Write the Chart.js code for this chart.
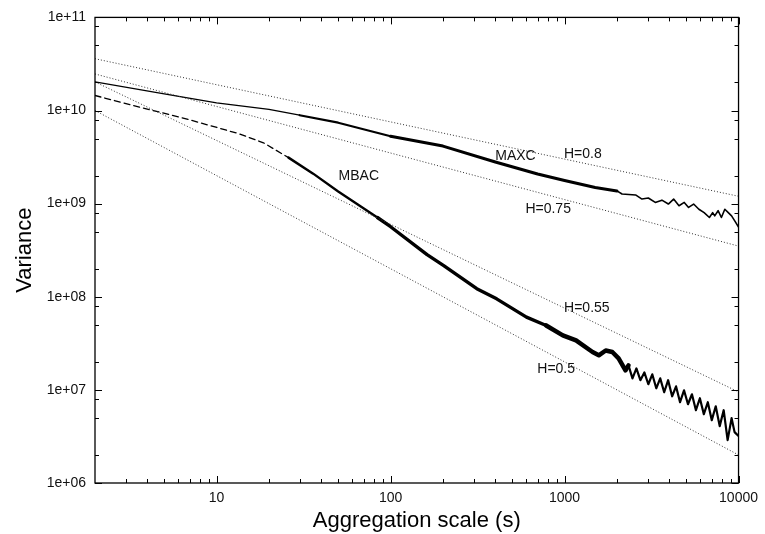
<!DOCTYPE html>
<html>
<head>
<meta charset="utf-8">
<script src="https://cdn.jsdelivr.net/npm/chart.js@4.4.1/dist/chart.umd.min.js"></script>
<style>
  html, body { margin: 0; padding: 0; background: #fff; }
  #wrap { width: 765px; height: 534px; }
</style>
</head>
<body>
<div id="wrap"><canvas id="varChart" width="765" height="534"></canvas></div>
<script>
// MAXC variance-time curve
const maxcX = [2, 5, 10, 20, 30, 50, 100, 200, 400, 700, 1000, 1500, 2000, 2140, 2560, 2785, 3030, 3322,
  3627, 3950, 4236, 4548, 4875, 5162, 5518, 5916, 6342, 6800, 7100, 7295, 7630, 7970, 8340, 8730, 9120, 9530, 10000];
const maxcY = [2.03e10, 1.51e10, 1.21e10, 1.03e10, 8.9e9, 7.4e9, 5.3e9, 4.15e9, 2.8e9, 2.08e9, 1.77e9, 1.49e9, 1.37e9, 1.27e9, 1.24e9, 1.12e9, 1.15e9, 1.03e9,
  1.09e9, 9.9e8, 1.12e9, 9.5e8, 1.03e9, 9.1e8, 9.9e8, 8.7e8, 8.0e8, 7.1e8, 8.0e8, 7.4e8, 8.4e8, 7.1e8, 8.7e8, 8.0e8, 7.4e8, 6.5e8, 5.6e8];

// MBAC variance-time curve
const mbacX = [2, 3.6, 7, 13.4, 18.6, 25.9, 35.9, 50, 84, 100, 162, 202, 313, 407, 604, 784, 977, 1164, 1448, 1573, 1724, 1882, 2045, 2240,
  2331, 2457, 2588, 2728, 2875, 3030, 3193, 3366, 3547, 3738, 3939, 4152, 4375, 4611, 4860, 5122, 5398, 5689, 5995, 6318, 6659, 7018, 7395, 7794, 8214, 8656, 9123, 9490, 10000];
const mbacY = [1.45e10, 1.09e10, 7.95e9, 5.64e9, 4.5e9, 3.12e9, 2.1e9, 1.35e9, 7.1e8, 5.65e8, 2.83e8, 2.16e8, 1.22e8, 9.5e7, 6.04e7, 4.92e7, 3.85e7, 3.4e7, 2.55e7, 2.35e7, 2.65e7, 2.55e7, 2.18e7, 1.62e7,
  1.83e7, 1.33e7, 1.70e7, 1.27e7, 1.54e7, 1.15e7, 1.47e7, 1.04e7, 1.33e7, 9.43e6, 1.27e7, 8.54e6, 1.09e7, 7.37e6, 9.9e6, 7.01e6, 8.97e6, 6.05e6, 8.13e6, 5.48e6, 7.37e6, 4.73e6, 6.67e6, 4.08e6, 6.05e6, 2.89e6, 4.97e6, 3.52e6, 3.19e6];

// reference slopes H (end points at x = 2 and x = 10000)
const hX = [2, 10000];
const h080Y = [3.6e10, 1.2e9];
const h075Y = [2.47e10, 3.5e8];
const h055Y = [2.03e10, 9.5e6];
const h050Y = [1.0e10, 2.0e6];

// text labels inside the plot (data coordinates)
const noteText = ['MAXC', 'H=0.8', 'H=0.75', 'MBAC', 'H=0.55', 'H=0.5'];
const noteX = [522, 1274, 805, 65.7, 1343, 895];
const noteY = [3.25e9, 3.41e9, 8.8e8, 1.99e9, 7.48e7, 1.66e7];

// axes
const xTicks = [10, 100, 1000, 10000];
const xTickLabels = ['10', '100', '1000', '10000'];
const xMinor = [3, 4, 5, 6, 7, 8, 9, 20, 30, 40, 50, 60, 70, 80, 90, 200, 300, 400, 500, 600, 700, 800, 900,
  2000, 3000, 4000, 5000, 6000, 7000, 8000, 9000];
const yTicks = [1e6, 1e7, 1e8, 1e9, 1e10, 1e11];
const yTickLabels = ['1e+06', '1e+07', '1e+08', '1e+09', '1e+10', '1e+11'];
const yMinor = [2e6, 5e6, 8e6, 2e7, 5e7, 8e7, 2e8, 5e8, 8e8, 2e9, 5e9, 8e9, 2e10, 5e10, 8e10];

const pts = (xs, ys) => xs.map((v, i) => ({ x: v, y: ys[i] }));
const FONT = '"Liberation Sans", Arial, Helvetica, sans-serif';

function dotted(ys) {
  return {
    data: pts(hX, ys),
    borderColor: '#333',
    borderWidth: 1,
    borderDash: [1, 2],
    pointRadius: 0,
    showLine: true
  };
}

// gnuplot style frame with inward tics on all sides, plus the text labels
const frameTicks = {
  id: 'frameTicks',
  afterDatasetsDraw(chart) {
    const { ctx, chartArea: a, scales: { x, y } } = chart;
    ctx.save();
    ctx.strokeStyle = '#000';
    ctx.lineWidth = 1;
    ctx.beginPath();
    const tickX = (vals, len) => vals.forEach(v => {
      const px = Math.round(x.getPixelForValue(v)) + 0.5;
      ctx.moveTo(px, a.bottom); ctx.lineTo(px, a.bottom - len);
      ctx.moveTo(px, a.top); ctx.lineTo(px, a.top + len);
    });
    const tickY = (vals, len) => vals.forEach(v => {
      const py = Math.round(y.getPixelForValue(v)) + 0.5;
      ctx.moveTo(a.left, py); ctx.lineTo(a.left + len, py);
      ctx.moveTo(a.right, py); ctx.lineTo(a.right - len, py);
    });
    tickX(xTicks, 7); tickX(xMinor, 4);
    tickY(yTicks, 7); tickY(yMinor, 4);
    ctx.stroke();
    ctx.lineWidth = 1.3;
    ctx.strokeRect(a.left, a.top, a.right - a.left, a.bottom - a.top);

    ctx.fillStyle = '#111';
    ctx.font = '14px ' + FONT;
    ctx.textAlign = 'center';
    ctx.textBaseline = 'middle';
    noteText.forEach((t, i) => ctx.fillText(t, x.getPixelForValue(noteX[i]), y.getPixelForValue(noteY[i])));
    ctx.restore();
  }
};

const ctx = document.getElementById('varChart').getContext('2d');
const varChart = new Chart(ctx, {
  type: 'scatter',
  data: {
    datasets: [
      dotted(h080Y), dotted(h075Y), dotted(h055Y), dotted(h050Y),
      {
        label: 'MAXC',
        data: pts(maxcX, maxcY),
        borderColor: '#000',
        borderWidth: 1.3,
        borderJoinStyle: 'round',
        borderCapStyle: 'round',
        pointRadius: 0,
        showLine: true,
        segment: {
          borderWidth: c => {
            const v = c.p0.parsed.x;
            if (v < 30) return 1.3;
            if (v < 100) return 2.2;
            if (v < 2000) return 3;
            return 1.6;
          }
        }
      },
      {
        label: 'MBAC',
        data: pts(mbacX, mbacY),
        borderColor: '#000',
        borderWidth: 1.3,
        borderJoinStyle: 'round',
        borderCapStyle: 'round',
        pointRadius: 0,
        showLine: true,
        segment: {
          borderDash: c => c.p0.parsed.x < 25 ? [6, 4] : [],
          borderWidth: c => {
            const v = c.p0.parsed.x;
            if (v < 25) return 1.3;
            if (v < 80) return 2.4;
            if (v < 700) return 3.4;
            if (v < 2300) return 4.5;
            return 2.2;
          }
        }
      }
    ]
  },
  options: {
    responsive: false,
    animation: false,
    devicePixelRatio: 1,
    layout: { padding: { top: 16, right: 24, left: 0, bottom: 0 } },
    plugins: { legend: { display: false }, tooltip: { enabled: false } },
    scales: {
      x: {
        type: 'logarithmic',
        min: 2,
        max: 10000,
        grid: { display: false, drawTicks: false },
        border: { display: false },
        afterFit: s => { s.height = 51; },
        afterBuildTicks: s => { s.ticks = xTicks.map(v => ({ value: v })); },
        ticks: {
          autoSkip: false,
          maxRotation: 0,
          padding: 7,
          color: '#111',
          font: { family: FONT, size: 14 },
          callback: (v, i) => xTickLabels[i]
        },
        title: {
          display: true,
          text: 'Aggregation scale (s)',
          color: '#000',
          padding: { top: 0, bottom: 0 },
          font: { family: FONT, size: 22 }
        }
      },
      y: {
        type: 'logarithmic',
        min: 1e6,
        max: 1e11,
        grid: { display: false, drawTicks: false },
        border: { display: false },
        afterFit: s => { s.width = 95; },
        afterBuildTicks: s => { s.ticks = yTicks.map(v => ({ value: v })); },
        ticks: {
          autoSkip: false,
          padding: 9,
          color: '#111',
          font: { family: FONT, size: 14 },
          callback: (v, i) => yTickLabels[i]
        },
        title: {
          display: true,
          text: 'Variance',
          color: '#000',
          padding: { top: 12, bottom: 0 },
          font: { family: FONT, size: 22 }
        }
      }
    }
  },
  plugins: [frameTicks]
});
</script>
</body>
</html>
